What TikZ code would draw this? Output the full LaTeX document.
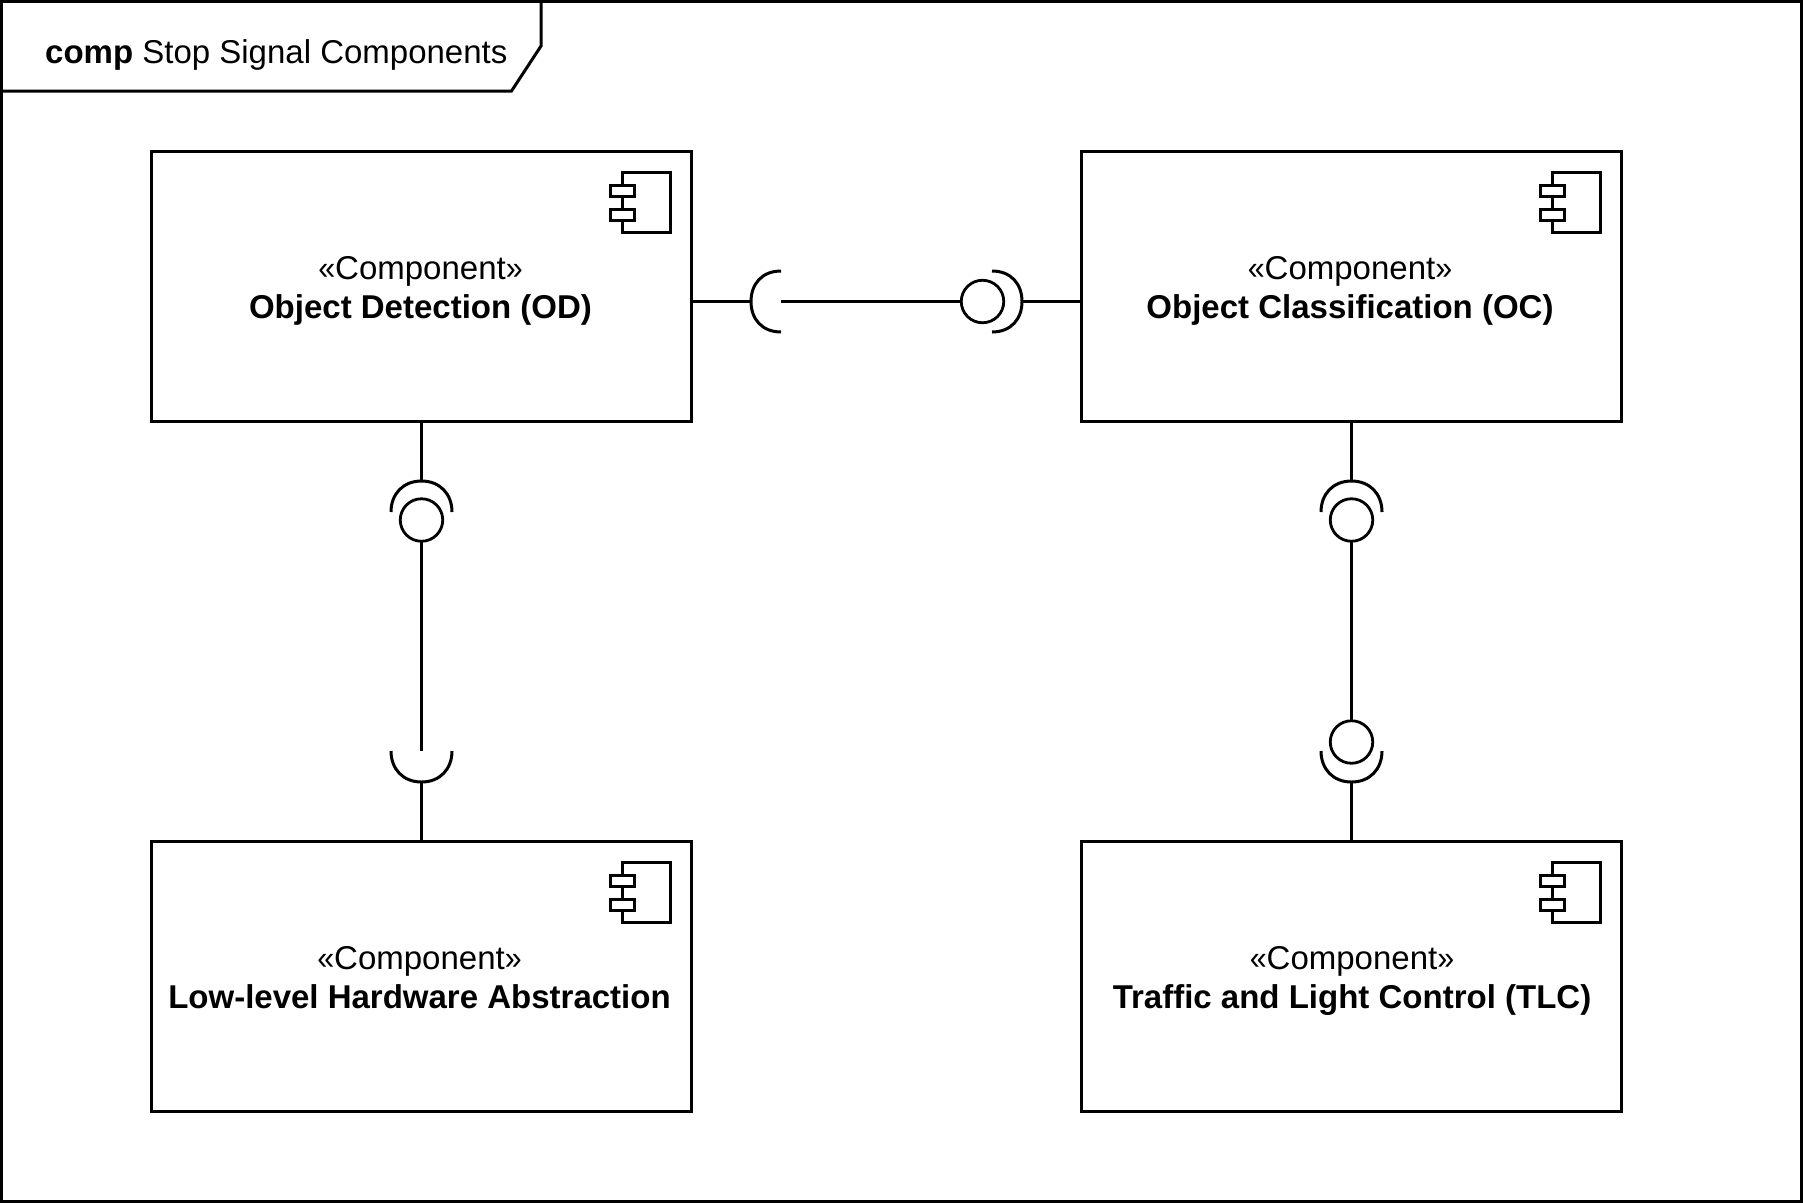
\documentclass[tikz,border=0pt]{standalone}
\usepackage{fontspec}
\setmainfont{Liberation Sans}
\newcommand{\lgm}{\scalebox{0.92}[1]{«}}
\newcommand{\rgm}{\scalebox{0.92}[1]{»}}
\begin{document}
\begin{tikzpicture}[x=1pt,y=-1pt,line join=miter,
  comp/.style={draw,line width=3pt,minimum width=540pt,minimum height=270pt,inner sep=0pt,outer sep=0pt,fill=white},
  ball/.style={draw,circle,line width=2.8pt,minimum size=42.5pt,inner sep=0pt,outer sep=0pt},
  wire/.style={line width=3pt},
  sock/.style={line width=3pt},
  lbl/.style={font=\fontsize{33}{38.5}\selectfont,align=center,inner sep=0pt,anchor=base},
  title/.style={font=\fontsize{33}{38.5}\selectfont,inner sep=0pt,anchor=base west},
  pics/compicon/.style={code={
    \draw[line width=3pt] (-8,-24.5) rectangle (40.5,35);
    \draw[line width=3pt,fill=white] (-19.5,-12) rectangle (4,-1);
    \draw[line width=3pt,fill=white] (-19.5,12) rectangle (4,23);
  }}]
\useasboundingbox (0,0) rectangle (1803,1203);
\draw[line width=3pt] (1.5,1.5) rectangle (1801.5,1201.5);
\draw[line width=3pt] (541,1.5) -- (541,46) -- (511.5,91) -- (1.5,91);
\node[title] (ttl) at (45,63) {\textbf{comp} Stop Signal Components};

\node[comp] (od) at (421.5,286) {};
\node[comp] (oc) at (1351.5,286) {};
\node[comp] (hw) at (421.5,976) {};
\node[comp] (tlc) at (1351.5,976) {};

\pic at (630,197) {compicon};
\pic at (1560,197) {compicon};
\pic at (630,887) {compicon};
\pic at (1560,887) {compicon};

\node[lbl] (odl) at (420.5,318) {\lgm Component\rgm\\\textbf{Object Detection (OD)}};
\node[lbl] (ocl) at (1350,318) {\lgm Component\rgm\\\textbf{Object Classification (OC)}};
\node[lbl] (hwl) at (419.5,1008) {\lgm Component\rgm\\\textbf{Low-level Hardware Abstraction}};
\node[lbl] (tlcl) at (1352,1008) {\lgm Component\rgm\\\textbf{Traffic and Light Control (TLC)}};

% horizontal connector OD - OC
\coordinate (sa) at (751,301.5);
\coordinate (sb) at (781,301.5);
\node[ball] (b1) at (982.5,301.5) {};
\coordinate (sc) at (1022,301.5);
\draw[wire] (od.east |- sa) -- (sa);
\draw[sock] (781,271) .. controls (762,271) and (751,284) .. (751,301.5) .. controls (751,319) and (762,332) .. (781,332);
\draw[wire] (sb) -- (b1);
\draw[sock] (992,271) .. controls (1011,271) and (1022,284) .. (1022,301.5) .. controls (1022,319) and (1011,332) .. (992,332);
\draw[wire] (sc) -- (oc.west |- sc);

% OD - hardware
\coordinate (sd) at (421.5,481);
\node[ball] (b2) at (421.5,520) {};
\coordinate (se) at (421.5,751);
\coordinate (sf) at (421.5,782);
\draw[wire] (od.south) -- (sd);
\draw[sock] (391,512) .. controls (391,494) and (403,481) .. (421.5,481) .. controls (440,481) and (452,494) .. (452,512);
\draw[wire] (b2) -- (se);
\draw[sock] (391,751) .. controls (391,769) and (403,782) .. (421.5,782) .. controls (440,782) and (452,769) .. (452,751);
\draw[wire] (sf) -- (hw.north);

% OC - TLC
\coordinate (sg) at (1351.5,481);
\node[ball] (b3) at (1351.5,520) {};
\node[ball] (b4) at (1351.5,742) {};
\coordinate (sh) at (1351.5,782);
\draw[wire] (oc.south) -- (sg);
\draw[sock] (1321,512) .. controls (1321,494) and (1333,481) .. (1351.5,481) .. controls (1370,481) and (1382,494) .. (1382,512);
\draw[wire] (b3) -- (b4);
\draw[sock] (1321,751) .. controls (1321,769) and (1333,782) .. (1351.5,782) .. controls (1370,782) and (1382,769) .. (1382,751);
\draw[wire] (sh) -- (tlc.north);
\end{tikzpicture}
\end{document}
